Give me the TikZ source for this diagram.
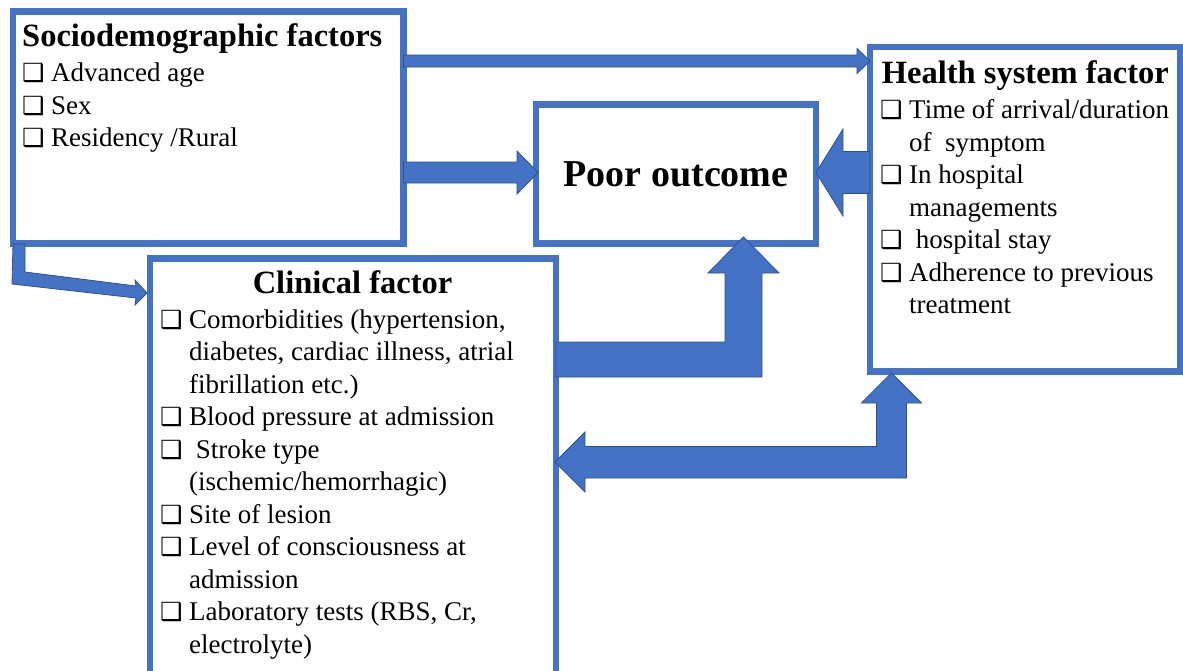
\documentclass[tikz,border=0pt]{standalone}
\usepackage{fontspec}
\setmainfont{Liberation Serif}
\newfontfamily\dejavu{DejaVu Sans}
\usetikzlibrary{calc}

\definecolor{boxblue}{HTML}{4472C4}
\definecolor{edgeblue}{HTML}{2F528F}

\newcommand{\bodysize}{\fontsize{27}{32.5}\selectfont}
\newcommand{\headsize}{\fontsize{32.5}{35}\selectfont\bfseries}
\newcommand{\cbox}{\makebox[28pt][l]{\hspace*{-1pt}\dejavu\fontsize{25}{25}\selectfont ❑}}
\newenvironment{checklist}{\begin{tabular}{@{}l@{}l@{}}}{\end{tabular}}

% straight block arrow: from, tip, half shaft, half head, head length
\newcommand{\hblock}[5]{%
  \draw[blockarrow] ($(#1)+(0,{-(#3)})$) -- ($(#2)+({-(#5)},{-(#3)})$)
    -- ($(#2)+({-(#5)},{-(#4)})$) -- (#2) -- ($(#2)+({-(#5)},#4)$)
    -- ($(#2)+({-(#5)},#3)$) -- ($(#1)+(0,#3)$) -- cycle;}

\tikzset{
  frame/.style={draw=boxblue, line width=6.5pt, fill=white, inner sep=0pt,
    outer sep=0pt, anchor=north west},
  blockarrow/.style={fill=boxblue, draw=edgeblue, line width=0.8pt},
  headtxt/.style={font=\headsize, inner sep=0pt},
  listtxt/.style={font=\bodysize, inner sep=0pt, anchor=north west},
}

\begin{document}
\begin{tikzpicture}[x=1pt, y=-1pt]
  \useasboundingbox (0,0) rectangle (1183,670);

  % Boxes
  \node[frame, minimum width=390.5pt, minimum height=232pt] (socio) at (13,11.5) {};
  \node[frame, minimum width=280pt, minimum height=139pt] (poor) at (536,104.5) {};
  \node[frame, minimum width=310pt, minimum height=324.5pt] (health) at (870,47) {};
  \node[frame, minimum width=406pt, minimum height=421.5pt] (clinical) at (150,258.5) {};

  % Sociodemographic -> health system (thin)
  \coordinate (a1s) at (socio.east |- 0,61);
  \coordinate (a1e) at (health.west |- 0,61);
  \hblock{a1s}{a1e}{6}{12.5}{13}

  % Sociodemographic -> poor outcome
  \coordinate (a2s) at (socio.east |- 0,172.5);
  \coordinate (a2e) at ($(poor.west |- 0,172.5)+(2,0)$);
  \hblock{a2s}{a2e}{10.5}{21.5}{21}

  % Health system -> poor outcome
  \coordinate (a3s) at (health.west |- 0,172.5);
  \coordinate (a3e) at (poor.east |- 0,172.5);
  \hblock{a3s}{a3e}{21}{43.5}{-27}

  % Clinical -> poor outcome (bent)
  \coordinate (a4s) at (clinical.east |- 0,359.5);
  \coordinate (a4e) at ($(poor.south east)+(-72.5,-6.5)$);
  \coordinate (a4k) at (a4s -| a4e);
  \draw[blockarrow] ($(a4s)+(0,-17.5)$) -- ($(a4k)+(-18.5,-17.5)$)
    -- ($(a4e)+(-18.5,36)$) -- ($(a4e)+(-35.5,36)$) -- (a4e)
    -- ($(a4e)+(35.5,36)$) -- ($(a4e)+(18.5,36)$)
    -- ($(a4k)+(18.5,17.5)$) -- ($(a4s)+(0,17.5)$) -- cycle;

  % Clinical <-> health system (two heads)
  \coordinate (a5l) at ($(clinical.east |- 0,462)+(-1,0)$);
  \coordinate (a5u) at ($(health.south west)+(21.5,1.5)$);
  \coordinate (a5k) at (a5l -| a5u);
  \draw[blockarrow] (a5l) -- ($(a5l)+(30,-30)$) -- ($(a5l)+(30,-15.5)$)
    -- ($(a5k)+(-15,-15.5)$) -- ($(a5u)+(-15,30)$) -- ($(a5u)+(-30,30)$)
    -- (a5u) -- ($(a5u)+(30,30)$) -- ($(a5u)+(15,30)$)
    -- ($(a5k)+(15,16)$) -- ($(a5l)+(30,16)$) -- ($(a5l)+(30,30)$) -- cycle;

  % Sociodemographic -> clinical (small bent)
  \coordinate (a6s) at ($(socio.south west)+(0,0.5)$);
  \coordinate (a6e) at ($(clinical.west |- 0,293)+(-3,0)$);
  \draw[blockarrow] (a6s) -- ++(12,0) -- ++(0,28) -- ($(a6e)+(-11,-7)$)
    -- ($(a6e)+(-12,-13)$) -- (a6e) -- ($(a6e)+(-12,12)$)
    -- ($(a6e)+(-11,5)$) -- ($(a6s)+(-1,40)$) -- cycle;

  % Texts
  \node[headtxt, anchor=base west] (sociohead) at (22,46.7) {Sociodemographic factors};
  \node[listtxt] (sociolist) at (23,59) {\begin{checklist}
    \cbox & Advanced age\\
    \cbox & Sex\\
    \cbox & Residency /Rural
  \end{checklist}};

  \node[font=\fontsize{38}{40}\selectfont\bfseries, inner sep=0pt, anchor=base]
    (poortxt) at (676,186.7) {Poor outcome};

  \node[headtxt, anchor=base west] (healthhead) at (881.7,83.3) {Health system factor};
  \node[listtxt] (healthlist) at (881,95.6) {\begin{checklist}
    \cbox & Time of arrival/duration\\
          & of\ \ symptom\\
    \cbox & In hospital\\
          & managements\\
    \cbox & \ hospital stay\\
    \cbox & Adherence to previous\\
          & treatment
  \end{checklist}};

  \node[headtxt, anchor=base] (clinhead) at (352.5,293.3) {Clinical factor};
  \node[listtxt] (clinlist) at (161,305.3) {\begin{checklist}
    \cbox & Comorbidities (hypertension,\\
          & diabetes, cardiac illness, atrial\\
          & fibrillation etc.)\\
    \cbox & Blood pressure at admission\\
    \cbox & \ Stroke type\\
          & (ischemic/hemorrhagic)\\
    \cbox & Site of lesion\\
    \cbox & Level of consciousness at\\
          & admission\\
    \cbox & Laboratory tests (RBS, Cr,\\
          & electrolyte)
  \end{checklist}};
\end{tikzpicture}
\end{document}
